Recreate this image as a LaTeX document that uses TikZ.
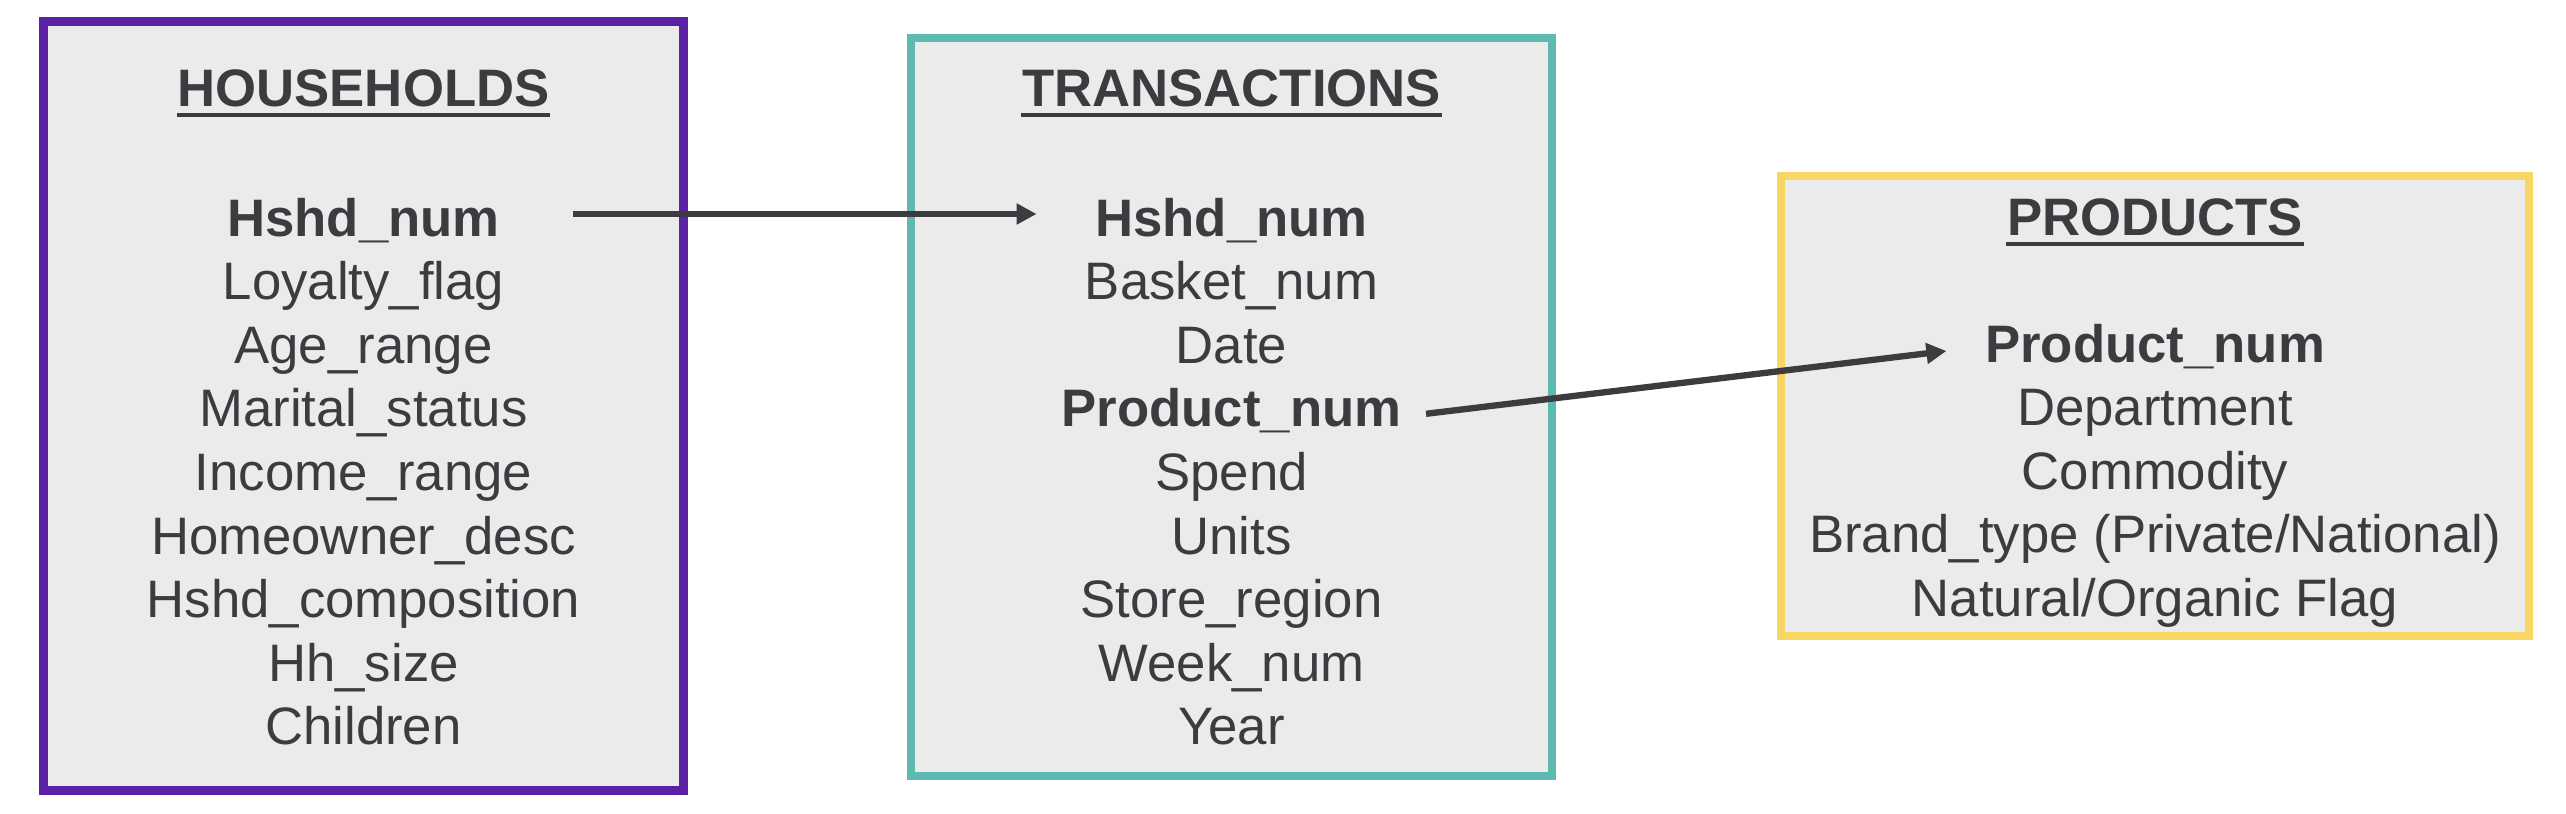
\documentclass[tikz,border=0pt]{standalone}
\usepackage{fontspec}
\setmainfont{Liberation Sans}
\usetikzlibrary{arrows.meta}
\definecolor{hhpurple}{HTML}{5B22A8}
\definecolor{trteal}{HTML}{5DB9B1}
\definecolor{pryellow}{HTML}{F8D664}
\definecolor{boxgray}{HTML}{EBEBEB}
\definecolor{ink}{HTML}{3C3B40}
\tikzset{
	table/.style={fill=boxgray, line width=2.3pt},
	title/.style={anchor=base, inner sep=0pt, text=ink, font=\fontsize{15}{18}\selectfont\bfseries},
	field/.style={anchor=base, inner sep=0pt, text=ink, font=\fontsize{15}{18}\selectfont},
	keyfield/.style={field, font=\fontsize{15}{18}\selectfont\bfseries},
	uline/.style={draw=ink, line width=1.1pt},
	link/.style={draw=ink, line width=1.8pt, -{Triangle[length=5.7pt,width=5.7pt]}}
}
\begin{document}
\begin{tikzpicture}
		\path[use as bounding box] (0,0) rectangle (25.66,-8.14);
		\draw[table, draw=hhpurple] (0.435,-0.215) rectangle (6.835,-7.905);
		\draw[table, draw=trteal] (9.11,-0.38) rectangle (15.52,-7.76);
		\draw[table, draw=pryellow] (17.81,-1.76) rectangle (25.29,-6.36);
		
		% households
		\node[title] (hhT) at (3.635,-1.064) {HOUSEHOLDS};
		\node[keyfield] (hhKey) at (3.635,-2.36) {Hshd\_num};
		\foreach \t [count=\i] in {Loyalty\_flag, Age\_range, Marital\_status, Income\_range, Homeowner\_desc, Hshd\_composition, Hh\_size, Children}
			\node[field] (hh\i) at (3.635,{-2.36-0.636*\i}) {\t};
		
		% transactions
		\node[title] (trT) at (12.315,-1.064) {TRANSACTIONS};
		\node[keyfield] (trKey) at (12.315,-2.36) {Hshd\_num};
		\node[field] (tr1) at (12.315,-2.996) {Basket\_num};
		\node[field] (tr2) at (12.315,-3.632) {Date};
		\node[keyfield] (trProd) at (12.315,-4.268) {Product\_num};
		\foreach \t [count=\i] in {Spend, Units, Store\_region, Week\_num, Year}
			\node[field] (tr\i x) at (12.315,{-4.268-0.636*\i}) {\t};
		
		% products
		\node[title] (prT) at (21.55,-2.35) {PRODUCTS};
		\node[keyfield] (prKey) at (21.55,-3.62) {Product\_num};
		\foreach \t [count=\i] in {Department, Commodity, Brand\_type (Private/National), Natural/Organic Flag}
			\node[field] (pr\i) at (21.55,{-3.62-0.636*\i}) {\t};
		
		\draw[uline] ([yshift=-0.09cm]hhT.base west) -- ([yshift=-0.09cm]hhT.base east);
		\draw[uline] ([yshift=-0.09cm]trT.base west) -- ([yshift=-0.09cm]trT.base east);
		\draw[uline] ([yshift=-0.09cm]prT.base west) -- ([yshift=-0.09cm]prT.base east);
		
		\draw[link] ([xshift=0.73cm,yshift=0.22cm]hhKey.base east) -- ([xshift=-0.58cm,yshift=0.22cm]trKey.base west);
		\draw[link] ([xshift=0.24cm,yshift=0.13cm]trProd.base east) -- ([xshift=-0.38cm,yshift=0.11cm]prKey.base west);
		
	\end{tikzpicture}
\end{document}
